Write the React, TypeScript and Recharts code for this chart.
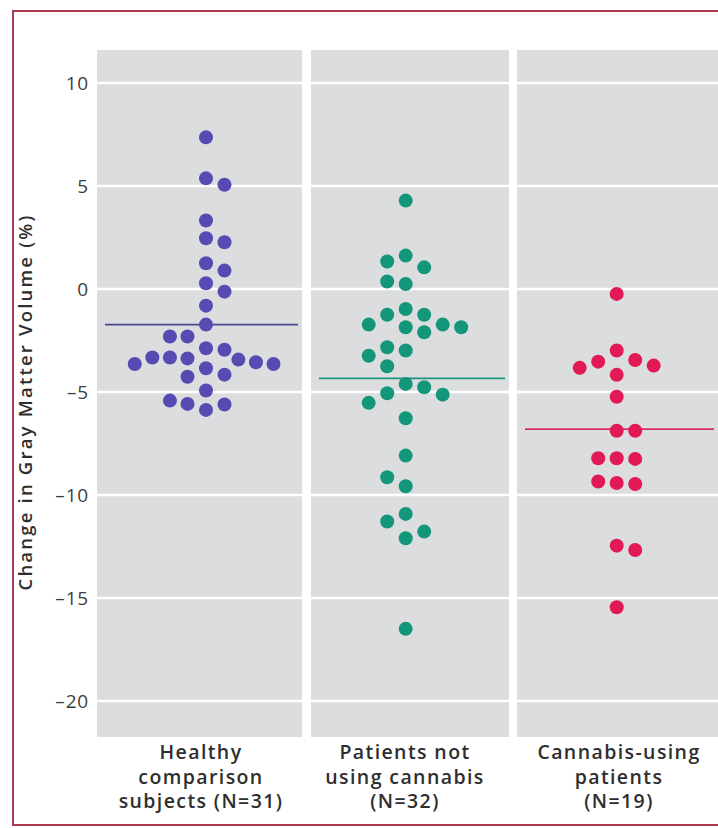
import React from 'react';
import { ScatterChart, Scatter, XAxis, YAxis, ReferenceArea, ReferenceLine } from 'recharts';

// ---------- data ----------
const categoryLabels: string[][] = [
  ['Healthy', 'comparison', 'subjects (N=31)'],
  ['Patients not', 'using cannabis', '(N=32)'],
  ['Cannabis-using', 'patients', '(N=19)'],
];

const yTicks = [10, 5, 0, -5, -10, -15, -20];

const healthyValues = [
  7.36, 5.37, 5.06, 3.32, 2.46, 2.27, 1.25, 0.89, 0.28, -0.13, -0.81, -1.73,
  -2.31, -2.31, -2.88, -2.95, -3.64, -3.33, -3.33, -3.37, -3.85, -3.43, -3.56,
  -3.64, -4.26, -4.16, -4.93, -5.42, -5.58, -5.87, -5.61,
];
const healthyColumns = [
  0, 0, 1, 0, 0, 1, 0, 1, 0, 1, 0, 0,
  -1.95, -1, 0, 1, -3.85, -2.9, -1.95, -1, 0, 1.75, 2.7,
  3.65, -1, 1, 0, -1.95, -1, 0, 1,
];

const nonUserValues = [
  4.29, 1.62, 1.33, 1.05, 0.36, 0.24, -0.97, -1.25, -1.25, -1.73, -1.86, -1.73,
  -1.86, -2.1, -2.83, -2.99, -3.24, -3.75, -4.61, -4.77, -5.13, -5.06, -5.53,
  -6.28, -8.09, -9.14, -9.58, -10.92, -11.29, -11.78, -12.1, -16.5,
];
const nonUserColumns = [
  0, 0, -1, 1, -1, 0, 0, -1, 1, -2, 0, 2,
  3, 1, -1, 0, -2, -1, 0, 1, 2, -1, -2,
  0, 0, -1, 0, 0, -1, 1, 0, 0,
];

const cannabisValues = [
  -0.24, -2.99, -3.53, -3.45, -3.83, -3.72, -4.17, -5.23, -6.88, -6.88,
  -8.22, -8.22, -8.25, -9.35, -9.42, -9.47, -12.46, -12.67, -15.45,
];
const cannabisColumns = [
  0, 0, -1, 1, -2, 2, 0, 0, 0, 1,
  -1, 0, 1, -1, 0, 1, 0, 1, 0,
];

const groupMeans = [-1.73, -4.34, -6.8];

// ---------- layout / style ----------
const W = 718;
const H = 828;
const PLOT_LEFT = 97;
const PLOT_TOP = 50;
const PLOT_BOTTOM = 737;
const X_MAX = W - PLOT_LEFT;
const Y_DOMAIN: [number, number] = [-21.75, 11.6];
const panels: [number, number][] = [
  [0, 205],
  [214, 412],
  [420, X_MAX],
];
const groupCenters = [109, 308.7, 519.7];
const labelCenters = [104, 308, 522];
const COL_STEP = 18.5;
const colors = ['#584ab3', '#13967a', '#e11a56'];
const meanColors = ['#4a478e', '#1d9380', '#d62f5c'];
const FONT = "'Open Sans', 'Noto Sans', sans-serif";

const makeData = (values: number[], cols: number[], g: number) =>
  values.map((v, i) => ({ x: groupCenters[g] + cols[i] * COL_STEP, y: v }));

const series = [
  makeData(healthyValues, healthyColumns, 0),
  makeData(nonUserValues, nonUserColumns, 1),
  makeData(cannabisValues, cannabisColumns, 2),
];

const fmt = (v: number) => (v < 0 ? '\u2013' + Math.abs(v) : String(v));

const XTick = (props: any) => {
  const { x, y, payload } = props;
  const idx = labelCenters.indexOf(payload.value);
  const lines = categoryLabels[idx] || [];
  return (
    <g>
      {lines.map((l, i) => (
        <text
          key={i}
          x={x}
          y={y + 22 + i * 24.5}
          textAnchor="middle"
          fontFamily={FONT}
          fontSize={19.5}
          fontWeight={600}
          letterSpacing={1.4}
          fill="#2e2e2e"
        >
          {l}
        </text>
      ))}
    </g>
  );
};

const YTick = (props: any) => {
  const { x, y, payload } = props;
  return (
    <text
      x={x}
      y={y}
      dy="0.355em"
      textAnchor="end"
      fontFamily={FONT}
      fontSize={19}
      fontWeight={500}
      letterSpacing={0.8}
      fill="#3e3e3e"
    >
      {fmt(payload.value)}
    </text>
  );
};

const YLabel = (props: any) => {
  const vb = props.viewBox || { x: 0, y: PLOT_TOP, width: PLOT_LEFT, height: PLOT_BOTTOM - PLOT_TOP };
  const cx = vb.x + 32;
  const cy = vb.y + vb.height / 2 + 8.5;
  return (
    <text
      x={cx}
      y={cy}
      transform={`rotate(-90, ${cx}, ${cy})`}
      textAnchor="middle"
      fontFamily={FONT}
      fontSize={18.5}
      fontWeight={600}
      letterSpacing={2.2}
      fill="#2e2e2e"
    >
      Change in Gray Matter Volume (%)
    </text>
  );
};

export default function App() {
  return (
    <div style={{ position: 'absolute', left: 0, top: 0, width: W, height: H, overflow: 'hidden', background: '#fff' }}>
      <div
        style={{
          position: 'absolute',
          left: 12,
          top: 10,
          width: 740,
          height: 816,
          boxSizing: 'border-box',
          border: '2.5px solid #a8394f',
        }}
      />
      <div style={{ position: 'absolute', left: 0, top: 0 }}>
        <ScatterChart width={W} height={H} margin={{ top: PLOT_TOP, right: 0, bottom: 0, left: 0 }}>
          <XAxis
            type="number"
            dataKey="x"
            domain={[0, X_MAX]}
            ticks={labelCenters}
            interval={0}
            allowDataOverflow
            axisLine={false}
            tickLine={false}
            tickSize={0}
            tickMargin={0}
            height={H - PLOT_BOTTOM}
            tick={<XTick />}
          />
          <YAxis
            type="number"
            dataKey="y"
            domain={Y_DOMAIN}
            ticks={yTicks}
            interval={0}
            allowDataOverflow
            axisLine={false}
            tickLine={false}
            tickSize={0}
            tickMargin={8}
            width={PLOT_LEFT}
            tick={<YTick />}
            label={<YLabel />}
          />
          {panels.map(([a, b], i) => (
            <ReferenceArea
              key={'p' + i}
              x1={a}
              x2={b}
              y1={Y_DOMAIN[0]}
              y2={Y_DOMAIN[1]}
              fill="#dcdddf"
              fillOpacity={1}
              stroke="none"
            />
          ))}
          {yTicks.map((t) => (
            <ReferenceLine key={'g' + t} y={t} stroke="#ffffff" strokeWidth={2.5} />
          ))}
          {groupMeans.map((m, i) => (
            <ReferenceLine
              key={'m' + i}
              segment={[
                { x: panels[i][0] + 8, y: m },
                { x: panels[i][1] - 4, y: m },
              ]}
              stroke={meanColors[i]}
              strokeWidth={1.8}
            />
          ))}
          {series.map((d, i) => (
            <Scatter
              key={'s' + i}
              data={d}
              fill={colors[i]}
              isAnimationActive={false}
              shape={(p: any) => <circle cx={p.cx} cy={p.cy} r={7} fill={colors[i]} />}
            />
          ))}
        </ScatterChart>
      </div>
    </div>
  );
}
